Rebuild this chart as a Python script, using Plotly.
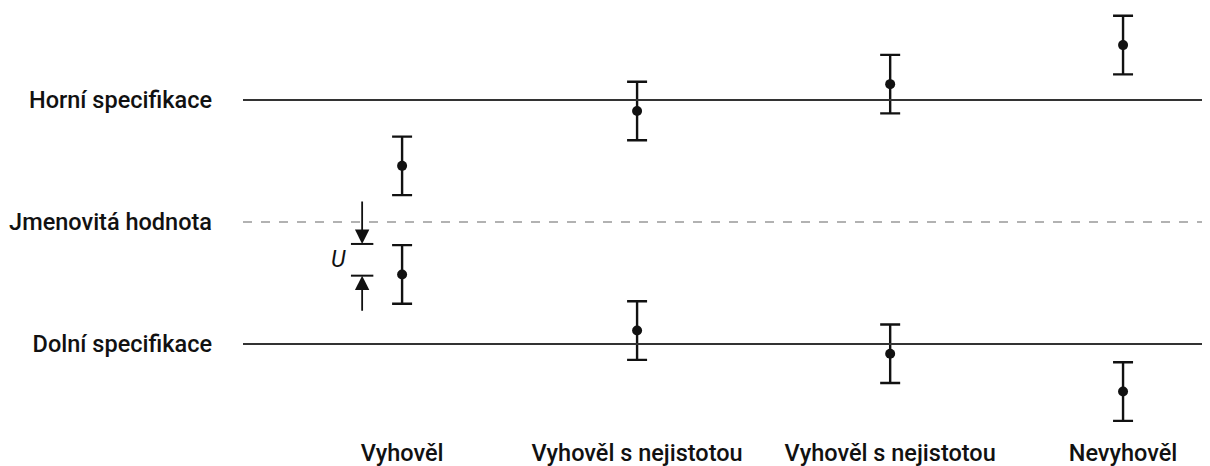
import plotly.graph_objects as go

# categories and measured results (units: nominal = 0, spec limits = +/-1)
categories = ["Vyhověl", "Vyhověl s nejistotou", "Vyhověl s nejistotou", "Nevyhověl"]
cat_pos = [1.0, 2.0, 3.077, 4.068]
upper_results = [0.46, 0.91, 1.13, 1.45]
lower_results = [-0.43, -0.89, -1.08, -1.39]
uncertainty = [0.24, 0.24, 0.24, 0.24]

spec_labels = ["Horní specifikace", "Jmenovitá hodnota", "Dolní specifikace"]
spec_values = [1.0, 0.0, -1.0]

# "U" marker: interval edges and arrow tails
u_x = 0.83
u_edges = [-0.18, -0.44]
u_tails = [0.18, -0.74]

INK = "#111"
FONT = "Roboto"

fig = go.Figure()

# spec lines
fig.add_hline(y=spec_values[0], line=dict(color="#333", width=2))
fig.add_hline(y=spec_values[1], line=dict(color="#999", width=1.5, dash="dash"))
fig.add_hline(y=spec_values[2], line=dict(color="#333", width=2))

for ys in (upper_results, lower_results):
    fig.add_trace(go.Scatter(
        x=cat_pos, y=ys, mode="markers",
        marker=dict(color=INK, size=10),
        error_y=dict(type="data", array=uncertainty, color=INK,
                     thickness=2.4, width=10),
        showlegend=False, hoverinfo="skip",
    ))

# U interval ticks
fig.add_trace(go.Scatter(
    x=[u_x, u_x], y=u_edges, mode="markers",
    marker=dict(symbol="line-ew", size=16, line=dict(color=INK, width=2)),
    showlegend=False, hoverinfo="skip",
))
for edge, tail in zip(u_edges, u_tails):
    fig.add_annotation(
        x=u_x, y=edge, ax=u_x, ay=tail, xref="x", yref="y",
        axref="x", ayref="y", text="", showarrow=True,
        arrowhead=2, arrowsize=1.6, arrowwidth=1.8, arrowcolor=INK,
    )
fig.add_annotation(
    x=0.728, y=sum(u_edges) / 2, xref="x", yref="y", text="<i>U</i>",
    showarrow=False, font=dict(family=FONT, size=23, color=INK),
)

fig.update_xaxes(
    range=[0.323, 4.438], tickvals=cat_pos, ticktext=categories,
    showgrid=False, zeroline=False, showline=False, ticks="",
    ticklabelstandoff=6,
    tickfont=dict(family=FONT, size=23.5, weight=500, color=INK),
)
fig.update_yaxes(
    range=[-1.705, 1.754], tickvals=spec_values, ticktext=spec_labels,
    showgrid=False, zeroline=False, showline=False, ticks="",
    ticklabelstandoff=30,
    tickfont=dict(family=FONT, size=23.5, weight=500, color=INK),
)
fig.update_layout(
    width=1202, height=458,
    margin=dict(l=235, r=0, t=0, b=36),
    plot_bgcolor="white", paper_bgcolor="white",
)

fig.write_html("out.html")
